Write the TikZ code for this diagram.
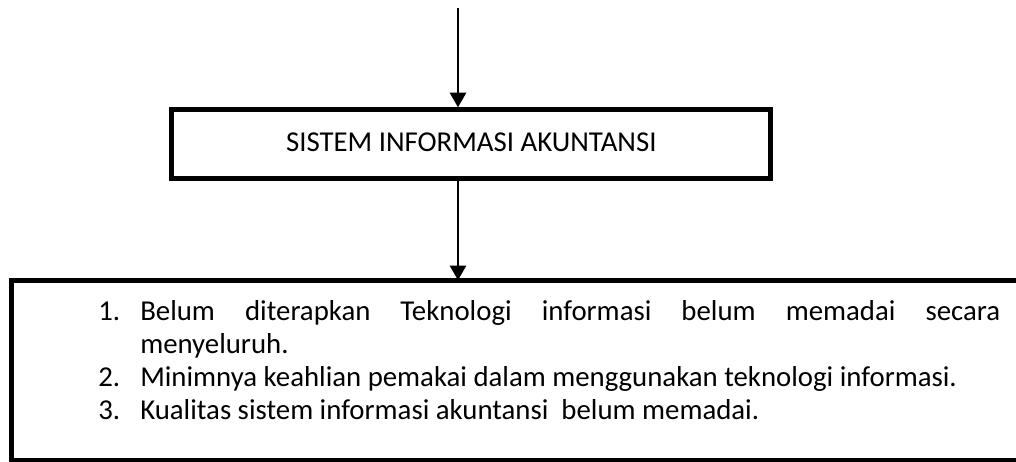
\documentclass[tikz,border=0pt]{standalone}
\usepackage{fontspec}
\setmainfont{Carlito}
\usetikzlibrary{arrows.meta}
\tikzset{
    kotak/.style={draw, line width=3.75pt, inner sep=0pt},
    garis/.style={line width=3.75pt},
    panah/.style={-{Triangle[width=12pt,length=11pt]}, line width=2pt},
}
\newcommand{\butir}[2]{\hangindent=31.5pt\hangafter=1\noindent\makebox[31.5pt][l]{#1}#2\par}
\begin{document}
\begin{tikzpicture}[x=0.75pt,y=-0.75pt,
    every node/.style={font=\fontsize{21.6}{24.9}\selectfont}]
    \useasboundingbox (0,0) rectangle (1016,461);
    \node[kotak, minimum width=449.25pt, minimum height=51.5pt, text depth=0.3em] (sia) at (471.3,144.2) {SISTEM INFORMASI AKUNTANSI};
    % kotak bawah terpotong di tepi kanan
    \node[inner sep=0pt, minimum width=753pt, minimum height=134.6pt] (masalah) at (514,370.25) {};
    \draw[garis] (masalah.north east) -- (masalah.north west) -- (masalah.south west) -- (masalah.south east);
    \node[anchor=base west, inner sep=0pt, text width=676.5pt, align=justify] (daftar) at (98,320) {%
        \hyphenpenalty=10000\exhyphenpenalty=10000\tolerance=10000
        \butir{1.}{Belum diterapkan Teknologi informasi belum memadai secara\linebreak menyeluruh.}
        \butir{2.}{Minimnya keahlian pemakai dalam menggunakan teknologi informasi.}
        \butir{3.}{Kualitas sistem informasi akuntansi\ \ belum memadai.}};
    \coordinate (awal) at (458,8);
    \draw[panah] (awal) -- (awal |- sia.north);
    \draw[panah] (awal |- sia.south) -- (awal |- masalah.north);
\end{tikzpicture}
\end{document}
